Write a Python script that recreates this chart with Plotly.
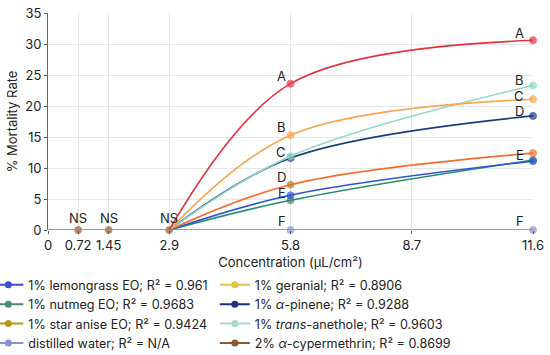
import plotly.graph_objects as go

# ---- data ----
x_conc = [2.9, 5.8, 11.6]
x_control_flat = [0, 0.72, 1.45, 2.9]
y_control_flat = [0, 0, 0, 0]

series_names = [
    "1% lemongrass EO; R² = 0.961",
    "1% geranial; R² = 0.8906",
    "1% nutmeg EO; R² = 0.9683",
    "1% <i>α</i>-pinene; R² = 0.9288",
    "1% star anise EO; R² = 0.9424",
    "1% <i>trans</i>-anethole; R² = 0.9603",
    "distilled water; R² = N/A",
    "2% <i>α</i>-cypermethrin; R² = 0.8699",
]
lemongrass = [0, 5.6, 11.1]
geranial = [0, 15.3, 21.1]
nutmeg = [0, 4.8, 11.3]
pinene = [0, 11.6, 18.4]
star_anise = [0, 7.3, 12.4]
anethole = [0, 11.9, 23.3]
water = [0, 0, 0]
cypermethrin = [0, 23.6, 30.6]

series_values = [lemongrass, geranial, nutmeg, pinene, star_anise, anethole, water, cypermethrin]
legend_colors = ["#3a4fd0", "#e6c04a", "#4f8a78", "#1c2f8a", "#b89a1a", "#a9d8cf", "#8a8fd8", "#8a5a34"]
line_colors = ["#2d55d2", "#f7a64e", "#23906c", "#173d80", "#f36d2c", "#8fd7c6", "#8a93d6", "#e0333f"]
start_colors = ["#4a3fc8", "#d9c23a", "#5d7f77", "#4a4fa0", "#a38a1c", "#9ab4c8", "#8a93d6", "#8a5a34"]
mid_marker_colors = ["#2d55d2", "#f7a64e", "#4f7f6a", "#173d80", "#a38a1c", "#8fd7c6", "#8a93d6", "#e0333f"]
legend_column = ["legend", "legend2", "legend", "legend2", "legend", "legend2", "legend", "legend2"]

labels_mid = ["E", "B", "", "C", "D", "", "F", "A"]
labels_end = ["", "C", "E", "D", "", "B", "F", "A"]
# pixel offsets (style) for the letter labels
mid_yshift = [2, 8, 0, 6, 8, 0, 9, 8]
end_yshift = [0, 3, 5, 5, 0, 6, 9, 7]

ns_x = [0.72, 1.45, 2.9]
ns_y = [0, 0, 0]
ns_labels = ["NS", "NS", "NS"]

x_ticks = [0, 0.72, 1.45, 2.9, 5.8, 8.7, 11.6]
x_tick_text = ["0", "0.72", "1.45", "2.9", "5.8", "8.7", "11.6"]

FONT = "Inter, Roboto, Arial, sans-serif"

fig = go.Figure()

# flat part of the control curve
fig.add_trace(go.Scatter(x=x_control_flat, y=y_control_flat, mode="lines+markers",
                         line=dict(color="#b0643a", width=1.6),
                         marker=dict(color="#8a5a34", size=[0, 7, 7, 7]),
                         showlegend=False, hoverinfo="skip", cliponaxis=False))
# water line spans whole axis
fig.add_trace(go.Scatter(x=[0, 11.6], y=[0, 0], mode="lines",
                         line=dict(color="#8a93d6", width=1.6),
                         showlegend=False, hoverinfo="skip", cliponaxis=False))

draw_order = [6, 2, 0, 4, 3, 5, 1, 7]
for i in draw_order:
    vals = series_values[i]
    fig.add_trace(go.Scatter(
        x=x_conc, y=vals, mode="lines+markers",
        line=dict(color=line_colors[i], width=1.6, shape="spline", smoothing=1.0),
        marker=dict(color=[start_colors[i], mid_marker_colors[i], line_colors[i]],
                    size=[0, 7, 7]),
        showlegend=False, hoverinfo="skip", cliponaxis=False))

# letter labels
for i, v in enumerate(series_values):
    if labels_mid[i]:
        fig.add_annotation(x=5.8, y=v[1], text=labels_mid[i], showarrow=False,
                           xanchor="right", yanchor="middle", xshift=-3, yshift=mid_yshift[i],
                           font=dict(family=FONT, size=13, color="#222"))
    if labels_end[i]:
        fig.add_annotation(x=11.6, y=v[2], text=labels_end[i], showarrow=False,
                           xanchor="right", yanchor="middle", xshift=-7, yshift=end_yshift[i],
                           font=dict(family=FONT, size=13, color="#222"))
for xv, yv, t in zip(ns_x, ns_y, ns_labels):
    fig.add_annotation(x=xv, y=yv, text=t, showarrow=False,
                       xanchor="center", yanchor="bottom", yshift=2,
                       font=dict(family=FONT, size=13, color="#222"))

# legend entries (two columns = two legends)
for i, name in enumerate(series_names):
    fig.add_trace(go.Scatter(x=[None], y=[None], mode="lines+markers", name=name,
                             legend=legend_column[i],
                             line=dict(color=legend_colors[i], width=2),
                             marker=dict(color=legend_colors[i], size=7)))

legend_style = dict(orientation="v", yanchor="top", xanchor="left",
                    font=dict(family=FONT, size=12.6, color="#222"),
                    tracegroupgap=0, itemwidth=30, bgcolor="rgba(0,0,0,0)")

fig.update_layout(
    width=550, height=355,
    margin=dict(l=48, r=17, t=13, b=125, autoexpand=False),
    paper_bgcolor="white", plot_bgcolor="white",
    font=dict(family=FONT, size=12, color="#222"),
    showlegend=True,
    legend=dict(x=-0.123, y=-0.185, **legend_style),
    legend2=dict(x=0.344, y=-0.185, **legend_style),
    xaxis=dict(range=[0, 11.6], tickvals=x_ticks, ticktext=x_tick_text,
               showgrid=True, gridcolor="#e6e6e6", gridwidth=1,
               showline=False, zeroline=False, ticks="outside", ticklen=3,
               tickcolor="#555",
               tickfont=dict(family=FONT, size=13, color="#222"),
               title=dict(text="Concentration (µL/cm²)", font=dict(family=FONT, size=13, color="#222"),
                          standoff=6)),
    yaxis=dict(range=[0, 35], dtick=5, showgrid=True, gridcolor="#e6e6e6",
               showline=True, linecolor="#666", linewidth=1, zeroline=False,
               ticks="outside", ticklen=3, tickcolor="#555",
               tickfont=dict(family=FONT, size=13, color="#222"),
               title=dict(text="% Mortality Rate", font=dict(family=FONT, size=13, color="#222"),
                          standoff=4)),
)

fig.write_html("out.html", config={"displayModeBar": False},
               post_script="document.body.style.margin='0';document.body.style.overflow='hidden';")
